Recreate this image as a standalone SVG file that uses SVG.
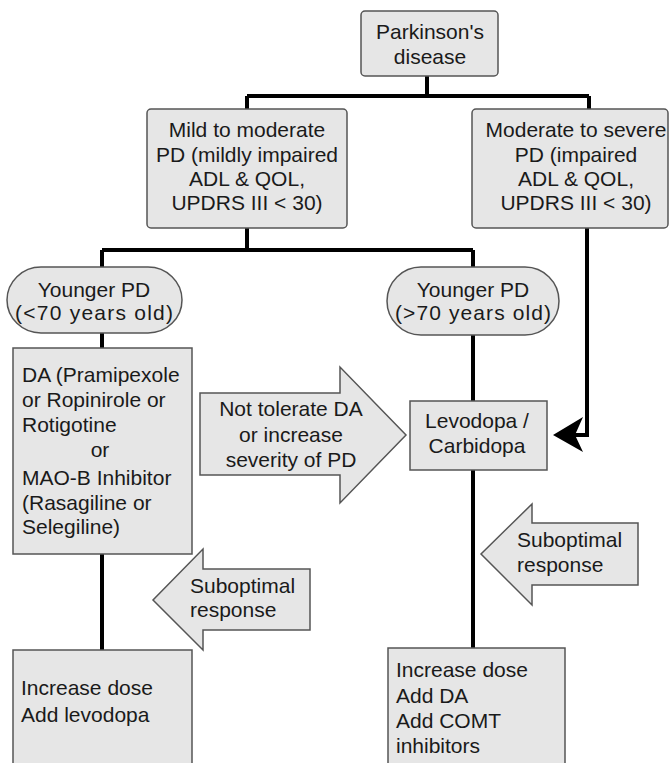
<svg xmlns="http://www.w3.org/2000/svg" width="671" height="763" viewBox="0 0 671 763">
  <style>
    .box { fill: #e6e6e6; stroke: #555; stroke-width: 1.5; }
    .wire { fill: none; stroke: #000; stroke-width: 4; }
    .t { font-family: "Liberation Sans", Arial, sans-serif; font-size: 21px; fill: #1a1a1a; }
    .c { text-anchor: middle; }
  </style>

  <!-- connectors -->
  <g id="connectors">
    <path class="wire" d="M427,76 V96 M247,96 H589 M247,96 V109 M589,96 V109"/>
    <path class="wire" d="M247,228 V250 M102,250 H473 M102,250 V267 M473,250 V267"/>
    <path class="wire" d="M102,333 V348"/>
    <path class="wire" d="M473,335 V401"/>
    <path class="wire" d="M102,554 V650"/>
    <path class="wire" d="M473,470 V648"/>
    <path class="wire" d="M587,228 V435 H575"/>
    <path d="M553,435 L583,417 L575,435 L583,452 Z" fill="#000"/>
  </g>

  <g id="n-parkinsons">
    <rect class="box" x="361" y="11" width="137" height="65" rx="4"/>
    <text class="t c" x="430" y="39">Parkinson's</text>
    <text class="t c" x="430" y="64">disease</text>
  </g>

  <g id="n-mild">
    <rect class="box" x="147" y="109" width="200" height="119" rx="4"/>
    <text class="t c" x="247" y="137">Mild to moderate</text>
    <text class="t c" x="247" y="162">PD (mildly impaired</text>
    <text class="t c" x="247" y="186">ADL &amp; QOL,</text>
    <text class="t c" x="247" y="210">UPDRS III &lt; 30)</text>
  </g>

  <g id="n-moderate">
    <rect class="box" x="472" y="109" width="196" height="119" rx="4"/>
    <text class="t c" x="576" y="137">Moderate to severe</text>
    <text class="t c" x="576" y="162">PD (impaired</text>
    <text class="t c" x="576" y="186">ADL &amp; QOL,</text>
    <text class="t c" x="576" y="210">UPDRS III &lt; 30)</text>
  </g>

  <g id="n-young-lt70">
    <rect class="box" x="7" y="267" width="175" height="66" rx="34" ry="33"/>
    <text class="t c" x="94" y="297">Younger PD</text>
    <text class="t c" x="94" y="320" textLength="158" lengthAdjust="spacing">(&lt;70 years old)</text>
  </g>

  <g id="n-young-gt70">
    <rect class="box" x="387" y="267" width="172" height="68" rx="34" ry="34"/>
    <text class="t c" x="473" y="297">Younger PD</text>
    <text class="t c" x="473" y="320" textLength="156" lengthAdjust="spacing">(&gt;70 years old)</text>
  </g>

  <g id="n-da">
    <rect class="box" x="13" y="348" width="179" height="206"/>
    <text class="t" x="22" y="382">DA (Pramipexole</text>
    <text class="t" x="22" y="407">or Ropinirole or</text>
    <text class="t" x="22" y="432">Rotigotine</text>
    <text class="t c" x="100" y="457">or</text>
    <text class="t" x="22" y="485">MAO-B Inhibitor</text>
    <text class="t" x="22" y="510">(Rasagiline or</text>
    <text class="t" x="22" y="534">Selegiline)</text>
  </g>

  <g id="n-not-tolerate">
    <path class="box" d="M200,393 H340 V367 L406,435 L340,503 V475 H200 Z"/>
    <text class="t c" x="291" y="416">Not tolerate DA</text>
    <text class="t c" x="291" y="442">or increase</text>
    <text class="t c" x="291" y="467">severity of PD</text>
  </g>

  <g id="n-levodopa">
    <rect class="box" x="410" y="401" width="137" height="69"/>
    <text class="t c" x="477" y="428">Levodopa /</text>
    <text class="t c" x="477" y="453">Carbidopa</text>
  </g>

  <g id="n-subopt-left">
    <path class="box" d="M310,569 H203 V549 L153,600 L203,650 V630 H310 Z"/>
    <text class="t" x="190" y="593">Suboptimal</text>
    <text class="t" x="190" y="617">response</text>
  </g>

  <g id="n-subopt-right">
    <path class="box" d="M638,523 H532 V504 L481,554 L532,605 V585 H638 Z"/>
    <text class="t" x="517" y="547">Suboptimal</text>
    <text class="t" x="517" y="572">response</text>
  </g>

  <g id="n-increase-left">
    <rect class="box" x="13" y="650" width="179" height="125"/>
    <text class="t" x="21" y="695">Increase dose</text>
    <text class="t" x="21" y="722">Add levodopa</text>
  </g>

  <g id="n-increase-right">
    <rect class="box" x="388" y="648" width="177" height="127"/>
    <text class="t" x="396" y="677">Increase dose</text>
    <text class="t" x="396" y="703">Add DA</text>
    <text class="t" x="396" y="728">Add COMT</text>
    <text class="t" x="396" y="753">inhibitors</text>
  </g>
</svg>
